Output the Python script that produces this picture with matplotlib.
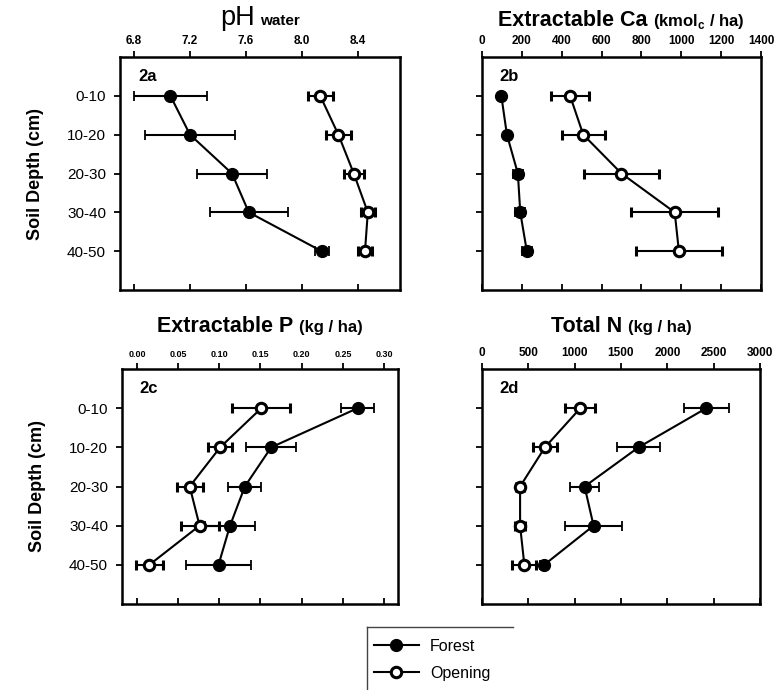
import matplotlib
matplotlib.use("Agg")
import matplotlib.pyplot as plt
from matplotlib.offsetbox import TextArea, HPacker, AnchoredOffsetbox
from matplotlib.lines import Line2D

plt.rcParams['font.family'] = ['Liberation Sans', 'DejaVu Sans']
plt.rcParams['mathtext.fontset'] = 'custom'
plt.rcParams['mathtext.rm'] = 'Liberation Sans'
plt.rcParams['mathtext.bf'] = 'Liberation Sans:bold'

# ----------------------------- #
# datos
# ----------------------------- #
depths = ['0-10', '10-20', '20-30', '30-40', '40-50']
depth_pos = [1, 2, 3, 4, 5]

ph_forest = [7.06, 7.20, 7.50, 7.62, 8.14]
ph_forest_err = [0.26, 0.32, 0.25, 0.28, 0.05]
ph_open = [8.13, 8.26, 8.37, 8.47, 8.45]
ph_open_err = [0.09, 0.09, 0.07, 0.05, 0.05]

ca_forest = [97, 125, 180, 192, 225]
ca_forest_err = [10, 12, 25, 25, 25]
ca_open = [442, 508, 700, 967, 988]
ca_open_err = [97, 108, 188, 218, 215]

p_forest = [0.268, 0.163, 0.131, 0.113, 0.099]
p_forest_err = [0.02, 0.03, 0.02, 0.03, 0.04]
p_open = [0.151, 0.101, 0.064, 0.076, 0.015]
p_open_err = [0.035, 0.015, 0.016, 0.023, 0.016]

n_forest = [2421, 1689, 1107, 1204, 671]
n_forest_err = [245, 235, 155, 310, 40]
n_open = [1061, 679, 411, 411, 457]
n_open_err = [160, 133, 40, 50, 128]

W, H = 777, 690
fig = plt.figure(figsize=(W / 100, H / 100), dpi=100)


def px_axes(left, top, right, bottom):
    return fig.add_axes([left / W, 1 - bottom / H, (right - left) / W, (bottom - top) / H])


def panel(ax, forest, f_err, opening, o_err, xlim, xticks, fmt, tick_size, label, show_y):
    ax.errorbar(forest, depth_pos, xerr=f_err, fmt='o-', color='k', lw=1.5,
                ms=8.5, mfc='k', mec='k', elinewidth=1.5, capsize=3.5, capthick=1.3, zorder=3)
    ax.errorbar(opening, depth_pos, xerr=o_err, fmt='o-', color='k', lw=1.5,
                ms=7.5, mfc='white', mec='k', mew=2.2, elinewidth=1.5, capsize=3.5,
                capthick=1.3, zorder=3)
    ax.set_xlim(*xlim)
    ax.set_ylim(6, 0)
    ax.set_xticks(xticks)
    ax.set_xticklabels([fmt.format(v) for v in xticks], fontsize=tick_size, fontweight='bold')
    ax.xaxis.tick_top()
    ax.tick_params(axis='x', direction='out', length=4, width=1.3, pad=3)
    # marcas inferiores hacia adentro
    sec = ax.secondary_xaxis('bottom')
    sec.set_xticks(xticks)
    sec.set_xticklabels([])
    sec.tick_params(direction='in', length=4, width=1.3)
    sec.spines['bottom'].set_visible(False)
    ax.set_yticks(depth_pos)
    if show_y:
        ax.set_yticklabels(depths, fontsize=11)
    else:
        ax.set_yticklabels([])
    ax.tick_params(axis='y', direction='out', length=4, width=1.3, pad=6)
    for s in ax.spines.values():
        s.set_linewidth(1.8)
    ax.text(0.064, 0.915, label, transform=ax.transAxes, fontsize=12,
            fontweight='bold', ha='left', va='center')


def titulo(ax, parts, y):
    boxes = [TextArea(t, textprops=dict(size=s, weight=w)) for t, s, w in parts]
    pack = HPacker(children=boxes, align='baseline', pad=0, sep=4)
    anc = AnchoredOffsetbox(loc='lower center', child=pack, pad=0, frameon=False,
                            bbox_to_anchor=(0.5, y), bbox_transform=ax.transAxes,
                            borderpad=0)
    ax.add_artist(anc)


ax_a = px_axes(120, 57, 400, 290)
ax_b = px_axes(482, 57, 761, 290)
ax_c = px_axes(122, 369, 398, 604)
ax_d = px_axes(482, 369, 760, 604)

panel(ax_a, ph_forest, ph_forest_err, ph_open, ph_open_err, (6.7, 8.7),
      [6.8, 7.2, 7.6, 8.0, 8.4], '{:.1f}', 8.5, '2a', True)
panel(ax_b, ca_forest, ca_forest_err, ca_open, ca_open_err, (0, 1400),
      [0, 200, 400, 600, 800, 1000, 1200, 1400], '{:.0f}', 8.5, '2b', False)
panel(ax_c, p_forest, p_forest_err, p_open, p_open_err, (-0.0182, 0.317),
      [0.0, 0.05, 0.10, 0.15, 0.20, 0.25, 0.30], '{:.2f}', 6.5, '2c', True)
panel(ax_d, n_forest, n_forest_err, n_open, n_open_err, (0, 3000),
      [0, 500, 1000, 1500, 2000, 2500, 3000], '{:.0f}', 8.5, '2d', False)

titulo(ax_a, [('pH', 19.5, 'normal'), ('water', 11, 'bold')], 1.11)
titulo(ax_b, [('Extractable Ca', 15.5, 'bold'), (r'(kmol$_\mathbf{c}$ / ha)', 12, 'bold')], 1.11)
titulo(ax_c, [('Extractable P', 15.5, 'bold'), ('(kg / ha)', 12, 'bold')], 1.135)
titulo(ax_d, [('Total N', 15.5, 'bold'), ('(kg / ha)', 12, 'bold')], 1.135)

for ax in (ax_a, ax_c):
    ax.set_ylabel('Soil Depth (cm)', fontsize=13, fontweight='bold', labelpad=17)

# leyenda
h_forest = Line2D([], [], color='k', lw=1.5, marker='o', ms=8.5, mfc='k', mec='k')
h_open = Line2D([], [], color='k', lw=1.5, marker='o', ms=7.5, mfc='white', mec='k', mew=2.2)
fig.legend([h_forest, h_open], ['Forest', 'Opening'], loc='upper left',
           bbox_to_anchor=(374 / W, 1 - 639 / H), borderaxespad=0, borderpad=0,
           frameon=False, handlelength=2.8, handletextpad=0.7, labelspacing=0.75,
           fontsize=11.5)
fig.add_artist(Line2D([367 / W, 513 / W], [1 - 627 / H, 1 - 627 / H], color='#444444', lw=1))
fig.add_artist(Line2D([367 / W, 367 / W], [1 - 627 / H, 0], color='#444444', lw=1))

fig.savefig('out.png', dpi=100)
